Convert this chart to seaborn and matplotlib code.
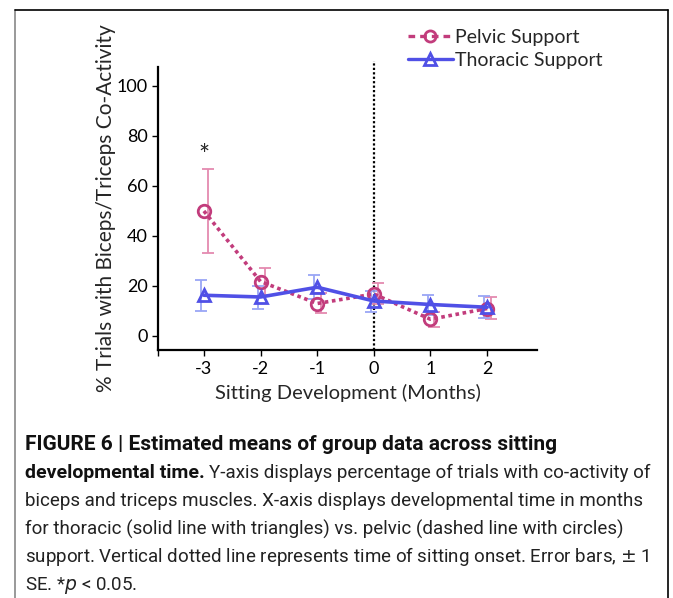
import numpy as np
import pandas as pd
import matplotlib.pyplot as plt
from matplotlib.lines import Line2D
import seaborn as sns

# Data
months = [-3, -2, -1, 0, 1, 2]
pelvic_mean = [50.0, 21.8, 13.0, 16.8, 6.7, 11.0]
pelvic_lo = [33.3, 16.3, 9.1, 12.8, 3.8, 6.8]
pelvic_hi = [67.0, 27.1, 17.1, 21.3, 9.7, 15.5]
thoracic_mean = [16.3, 15.6, 19.5, 14.0, 12.6, 11.5]
thoracic_lo = [10.1, 10.7, 14.8, 9.5, 8.5, 7.1]
thoracic_hi = [22.4, 20.0, 24.3, 18.2, 16.3, 16.1]
groups = ["Pelvic Support", "Thoracic Support"]

pink, pink_err = "#c23c7c", "#e48ab0"
blue, blue_err = "#5050e6", "#9aa6f6"

df = pd.DataFrame({
    "month": months * 2,
    "pct": pelvic_mean + thoracic_mean,
    "group": [groups[0]] * 6 + [groups[1]] * 6,
})

sns.set_style("ticks")
plt.rcParams["font.family"] = ["Lato", "DejaVu Sans"]

fig = plt.figure(figsize=(6.73, 5.98), dpi=100)
ax = fig.add_axes([158 / 673, 1 - 350 / 598, (537 - 158) / 673, (350 - 67) / 598])

# error bars (slightly dodged like the original)
ax.errorbar(np.array(months) + 0.07, pelvic_mean,
            yerr=[np.subtract(pelvic_mean, pelvic_lo), np.subtract(pelvic_hi, pelvic_mean)],
            fmt="none", ecolor=pink_err, elinewidth=1.3, capsize=4, capthick=1.3, zorder=2)
ax.errorbar(np.array(months) - 0.05, thoracic_mean,
            yerr=[np.subtract(thoracic_mean, thoracic_lo), np.subtract(thoracic_hi, thoracic_mean)],
            fmt="none", ecolor=blue_err, elinewidth=1.3, capsize=4, capthick=1.3, zorder=2)

sns.lineplot(data=df, x="month", y="pct", hue="group", style="group",
             palette={groups[0]: pink, groups[1]: blue},
             dashes={groups[0]: (1.0, 1.0), groups[1]: ""},
             markers={groups[0]: "o", groups[1]: "^"},
             markersize=9, markerfacecolor="none", markeredgewidth=2,
             linewidth=2.6, ax=ax, legend=False, zorder=3)
for ln, col in zip(ax.lines[-2:], [pink, blue]):
    ln.set_markeredgecolor(col)
    ln.set_markerfacecolor("none")

ax.axvline(0, ymin=0, ymax=1.02, color="black", linestyle=(0, (1, 1)),
           linewidth=1.6, clip_on=False, zorder=1)
ax.text(-3, 72, "*", ha="center", va="center", fontsize=19)

ax.set_xlim(-3.81, 2.88)
ax.set_ylim(-5.6, 107.6)
ax.set_xticks(months)
ax.set_xticklabels([str(m) for m in months])
ax.set_xticks([-3.81], minor=True)
ax.set_yticks([0, 20, 40, 60, 80, 100])
ax.tick_params(axis="both", which="both", direction="out", length=4, width=1,
               labelsize=13, colors="black")
ax.tick_params(axis="x", pad=4)
sns.despine(ax=ax)
for s in ["left", "bottom"]:
    ax.spines[s].set_linewidth(1.6)
    ax.spines[s].set_color("black")
ax.set_xlabel("Sitting Development (Months)", fontsize=14.5, labelpad=5)
ax.set_ylabel("% Trials with Biceps/Triceps Co-Activity", fontsize=15, labelpad=0)

handles = [
    Line2D([], [], color=pink, linestyle=(0, (2, 1.5)), linewidth=2.4, marker="o",
           markersize=8, markerfacecolor="none", markeredgewidth=2),
    Line2D([], [], color=blue, linewidth=2.4, marker="^",
           markersize=8, markerfacecolor="none", markeredgewidth=2),
]
fig.legend(handles, groups, loc="upper left", bbox_to_anchor=(400 / 673, 1 - 21 / 598),
           frameon=False, fontsize=14, handlelength=2.3, handletextpad=0.15,
           labelspacing=0.3, borderaxespad=0)

# frame around the figure panel
fig.add_artist(Line2D([15 / 673, 15 / 673], [0, 1 - 10 / 598], color="#888888", lw=1.2,
                      transform=fig.transFigure))
fig.add_artist(Line2D([15 / 673, 668 / 673], [1 - 10 / 598, 1 - 10 / 598], color="black",
                      lw=1.2, transform=fig.transFigure))
fig.add_artist(Line2D([668 / 673, 668 / 673], [0, 1 - 10 / 598], color="black", lw=1.2,
                      transform=fig.transFigure))

# caption
cap_font = ["Roboto", "DejaVu Sans"]
x0 = 25 / 673
fig.text(x0, 1 - 445 / 598, "FIGURE 6 | Estimated means of group data across sitting",
         fontsize=15, fontweight="bold", family=cap_font, va="center", color="#111111")
t = fig.text(x0, 1 - 473 / 598, "developmental time.", fontsize=14, fontweight="bold",
             family=cap_font, va="center", color="#111111")
fig.canvas.draw()
bb = t.get_window_extent().transformed(fig.transFigure.inverted())
fig.text(bb.x1 + 4 / 673, 1 - 473 / 598,
         "Y-axis displays percentage of trials with co-activity of",
         fontsize=13.5, family=cap_font, va="center", color="#222222")
lines = [
    "biceps and triceps muscles. X-axis displays developmental time in months",
    "for thoracic (solid line with triangles) vs. pelvic (dashed line with circles)",
    "support. Vertical dotted line represents time of sitting onset. Error bars, $\\pm$ 1",
    "SE. *$p$ < 0.05.",
]
for i, line in enumerate(lines):
    fig.text(x0, 1 - (501 + 28 * i) / 598, line, fontsize=13.5, family=cap_font,
             va="center", color="#222222")

fig.savefig("out.png", dpi=100)
